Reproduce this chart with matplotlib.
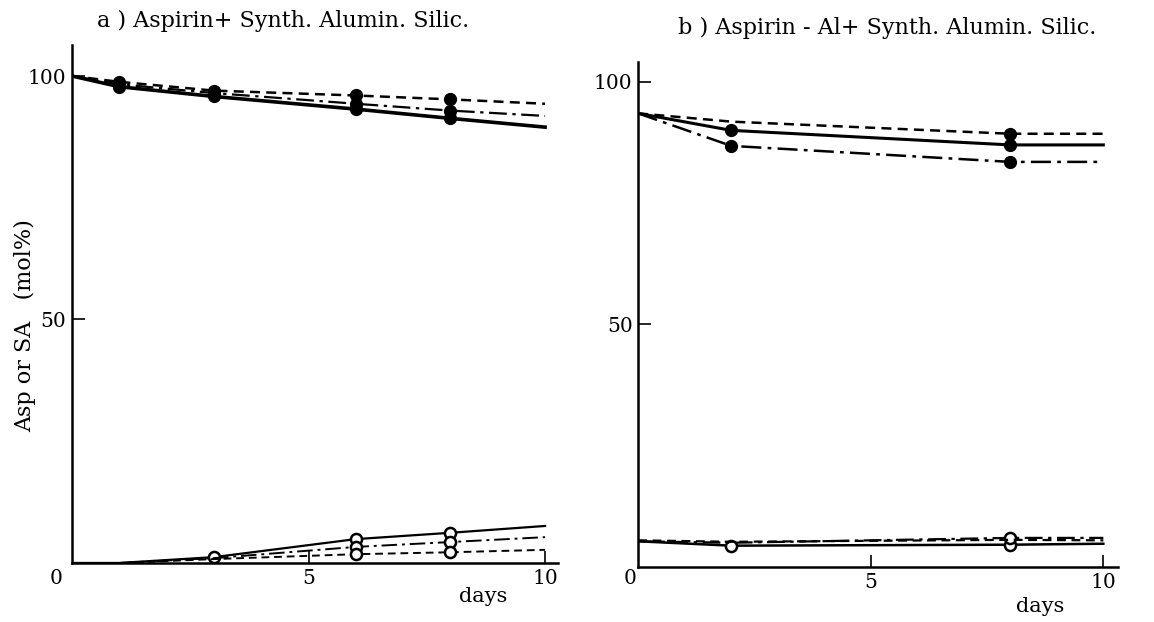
import matplotlib
matplotlib.use("Agg")
import matplotlib.pyplot as plt

# ---- data ----
a_days = [0, 1, 3, 6, 8, 10]
a_solid_asp = [100, 97.8, 95.8, 93.2, 91.3, 89.5]
a_dashdot_asp = [100, 98.3, 96.5, 94.3, 92.9, 91.8]
a_dashed_asp = [100, 98.8, 97.0, 96.0, 95.2, 94.3]
a_solid_sa = [0, 0, 1.2, 4.9, 6.2, 7.6]
a_dashdot_sa = [0, 0, 1.0, 3.3, 4.3, 5.3]
a_dashed_sa = [0, 0, 0.8, 1.8, 2.2, 2.7]

b_days = [0, 2, 8, 10]
b_solid_asp = [93.5, 90.0, 87.0, 87.0]
b_dashdot_asp = [93.5, 86.8, 83.5, 83.5]
b_dashed_asp = [93.5, 91.8, 89.3, 89.3]
b_solid_sa = [5.3, 4.4, 4.6, 4.8]
b_dashdot_sa = [5.3, 5.0, 6.0, 6.0]
b_dashed_sa = [5.5, 5.2, 5.6, 5.5]

titles = ["a ) Aspirin+ Synth. Alumin. Silic.", "b ) Aspirin - Al+ Synth. Alumin. Silic."]
ylabel = "Asp or SA   (mol%)"
xlabel = "days"

plt.rcParams['font.family'] = ['DejaVu Serif']

W, H = 1154, 622
fig = plt.figure(figsize=(W / 100, H / 100), dpi=100)
axa = fig.add_axes([0.0624, 0.0949, 0.421, 0.833])
axb = fig.add_axes([0.553, 0.0884, 0.416, 0.812])

dashed = (0, (4, 2.5))
dashdot = (0, (8, 2.5, 1.5, 2.5))
fill_kw = dict(marker='o', markersize=8.5, markerfacecolor='black', markeredgecolor='black')
open_kw = dict(marker='o', markersize=8, markerfacecolor='white', markeredgecolor='black', markeredgewidth=1.8)

def style(ax, xmax, ymax):
    ax.set_xlim(0, xmax)
    ax.set_ylim(0, ymax)
    for s in ['top', 'right']:
        ax.spines[s].set_visible(False)
    for s in ['left', 'bottom']:
        ax.spines[s].set_linewidth(1.8)
    ax.set_xticks([5, 10])
    ax.set_xticklabels(['5', '10'], fontsize=14.5)
    ax.set_yticks([50, 100])
    ax.set_yticklabels(['50', '100'], fontsize=14.5)
    ax.tick_params(axis='both', direction='in', length=9, width=1.2, pad=4)

def ftext(x, y, s, **kw):
    fig.text(x / W, 1 - y / H, s, **kw)

# panel a
axa.plot(a_days, a_solid_asp, '-', color='black', lw=2.6, markevery=[1, 2, 3, 4], **fill_kw)
axa.plot(a_days, a_dashdot_asp, linestyle=dashdot, color='black', lw=1.6, markevery=[1, 2, 3, 4], **fill_kw)
axa.plot(a_days, a_dashed_asp, linestyle=dashed, color='black', lw=1.8, markevery=[1, 2, 3, 4], **fill_kw)
axa.plot(a_days, a_solid_sa, '-', color='black', lw=1.6, markevery=[2, 3, 4], **open_kw)
axa.plot(a_days, a_dashdot_sa, linestyle=dashdot, color='black', lw=1.4, markevery=[3, 4], **open_kw)
axa.plot(a_days, a_dashed_sa, linestyle=dashed, color='black', lw=1.4, markevery=[3, 4], **open_kw)
style(axa, 10.27, 106.4)

# panel b
axb.plot(b_days, b_dashed_asp, linestyle=dashed, color='black', lw=1.8, markevery=[2], **fill_kw)
axb.plot(b_days, b_solid_asp, '-', color='black', lw=2.2, markevery=[1, 2], **fill_kw)
axb.plot(b_days, b_dashdot_asp, linestyle=dashdot, color='black', lw=1.8, markevery=[1, 2], **fill_kw)
axb.plot(b_days, b_solid_sa, '-', color='black', lw=1.8, markevery=[1, 2], **open_kw)
axb.plot(b_days, b_dashdot_sa, linestyle=dashdot, color='black', lw=1.6, markevery=[2], **open_kw)
axb.plot(b_days, b_dashed_sa, linestyle=dashed, color='black', lw=1.6)
style(axb, 10.32, 104.1)

ftext(56, 578, '0', fontsize=14.5, ha='center', va='center')
ftext(630, 579, '0', fontsize=14.5, ha='center', va='center')
ftext(483, 597, xlabel, fontsize=15, ha='center', va='center')
ftext(1040, 606, xlabel, fontsize=15, ha='center', va='center')

ftext(97, 21, titles[0], fontsize=16, ha='left', va='center')
ftext(678, 28, titles[1], fontsize=16, ha='left', va='center')
ftext(25, 326, ylabel, fontsize=16, rotation=90, ha='center', va='center')

fig.savefig('out.png', dpi=100)
